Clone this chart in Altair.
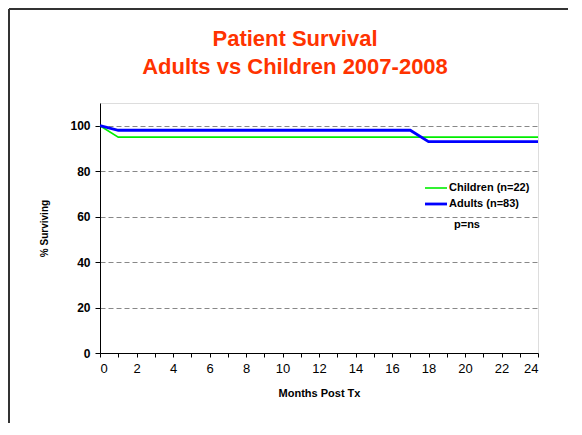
import altair as alt
import pandas as pd

# Data
child_months = [0, 1, 24]
child_surv = [100, 95, 95]
adult_months = [0, 1, 17, 18, 24]
adult_surv = [100, 98, 98, 93, 93]
series_names = ["Children (n=22)", "Adults (n=83)"]
series_colors = ["#00EE00", "#0000FF"]
series_widths = [1.6, 2.8]
x_ticks = list(range(0, 25))
y_ticks = [0, 20, 40, 60, 80, 100]
title_lines = ["Patient Survival", "Adults vs Children 2007-2008"]
note_text = "p=ns"

rows = []
for m, s in zip(child_months, child_surv):
    rows.append({"month": m, "surv": s, "series": series_names[0]})
for m, s in zip(adult_months, adult_surv):
    rows.append({"month": m, "surv": s, "series": series_names[1]})
df = pd.DataFrame(rows)

FONT = "Liberation Sans"
one = pd.DataFrame({"a": [0]})

lines = alt.Chart(df).mark_line().encode(
    x=alt.X("month:Q",
            scale=alt.Scale(domain=[0, 24], nice=False),
            axis=alt.Axis(values=x_ticks, title="Months Post Tx",
                          labelExpr="datum.value % 2 == 0 ? datum.label : ''",
                          grid=False, tickSize=4, tickColor="black",
                          domainColor="black", labelFont=FONT, labelFontSize=13,
                          labelColor="black", labelPadding=5,
                          titleFont=FONT, titleFontSize=11, titleFontWeight="bold",
                          titlePadding=12, titleColor="black")),
    y=alt.Y("surv:Q",
            scale=alt.Scale(domain=[0, 110], nice=False),
            axis=alt.Axis(values=y_ticks, title="% Surviving",
                          grid=True, gridDash=[5, 3], gridColor="#888888",
                          tickSize=5, tickColor="black", domainColor="black",
                          labelFont=FONT, labelFontSize=12, labelFontWeight="bold",
                          labelColor="black", labelPadding=5,
                          titleFont=FONT, titleFontSize=10, titleFontWeight="bold",
                          titlePadding=20, titleColor="black")),
    color=alt.Color("series:N",
                    scale=alt.Scale(domain=series_names, range=series_colors),
                    legend=None),
    strokeWidth=alt.StrokeWidth("series:N",
                                scale=alt.Scale(domain=series_names, range=series_widths),
                                legend=None),
    detail="series:N",
)

# manual legend (inside the plot, as in the reference)
legend_layers = []
for i, (name, col, w) in enumerate(zip(series_names, series_colors, series_widths)):
    ypix = 85 + 16 * i
    legend_layers.append(
        alt.Chart(one).mark_rule(color=col, strokeWidth=w).encode(
            x=alt.value(325), x2=alt.value(347), y=alt.value(ypix)))
    legend_layers.append(
        alt.Chart(pd.DataFrame({"t": [name]})).mark_text(
            font=FONT, fontSize=11, fontWeight="bold", align="left",
            baseline="middle", color="black").encode(
            text="t:N", x=alt.value(349), y=alt.value(ypix)))

pns = alt.Chart(pd.DataFrame({"t": [note_text]})).mark_text(
    font=FONT, fontSize=11, fontWeight="bold", align="left", color="black"
).encode(text="t:N", x=alt.value(354), y=alt.value(122))

title_layers = []
for i, line in enumerate(title_lines):
    title_layers.append(
        alt.Chart(pd.DataFrame({"t": [line]})).mark_text(
            font=FONT, fontSize=22, fontWeight="bold", align="center",
            baseline="alphabetic", color="#FF3300").encode(
            text="t:N", x=alt.value(195), y=alt.value(-57 + 28 * i)))

frame_top = alt.Chart(one).mark_rule(color="#333333", strokeWidth=2).encode(
    x=alt.value(-91), x2=alt.value(470), y=alt.value(-94))
frame_left = alt.Chart(one).mark_rule(color="#333333", strokeWidth=2).encode(
    x=alt.value(-91), y=alt.value(-94), y2=alt.value(330))

chart = alt.layer(frame_top, frame_left, lines, *legend_layers, pns, *title_layers).properties(
    width=438, height=250,
    autosize=alt.AutoSizeParams(type="none"),
    padding={"left": 92, "top": 95, "right": 30, "bottom": 70},
).configure_view(stroke="black", strokeWidth=1).configure(background="white")

chart.save("out.html", embed_options={"renderer": "svg", "actions": False})
